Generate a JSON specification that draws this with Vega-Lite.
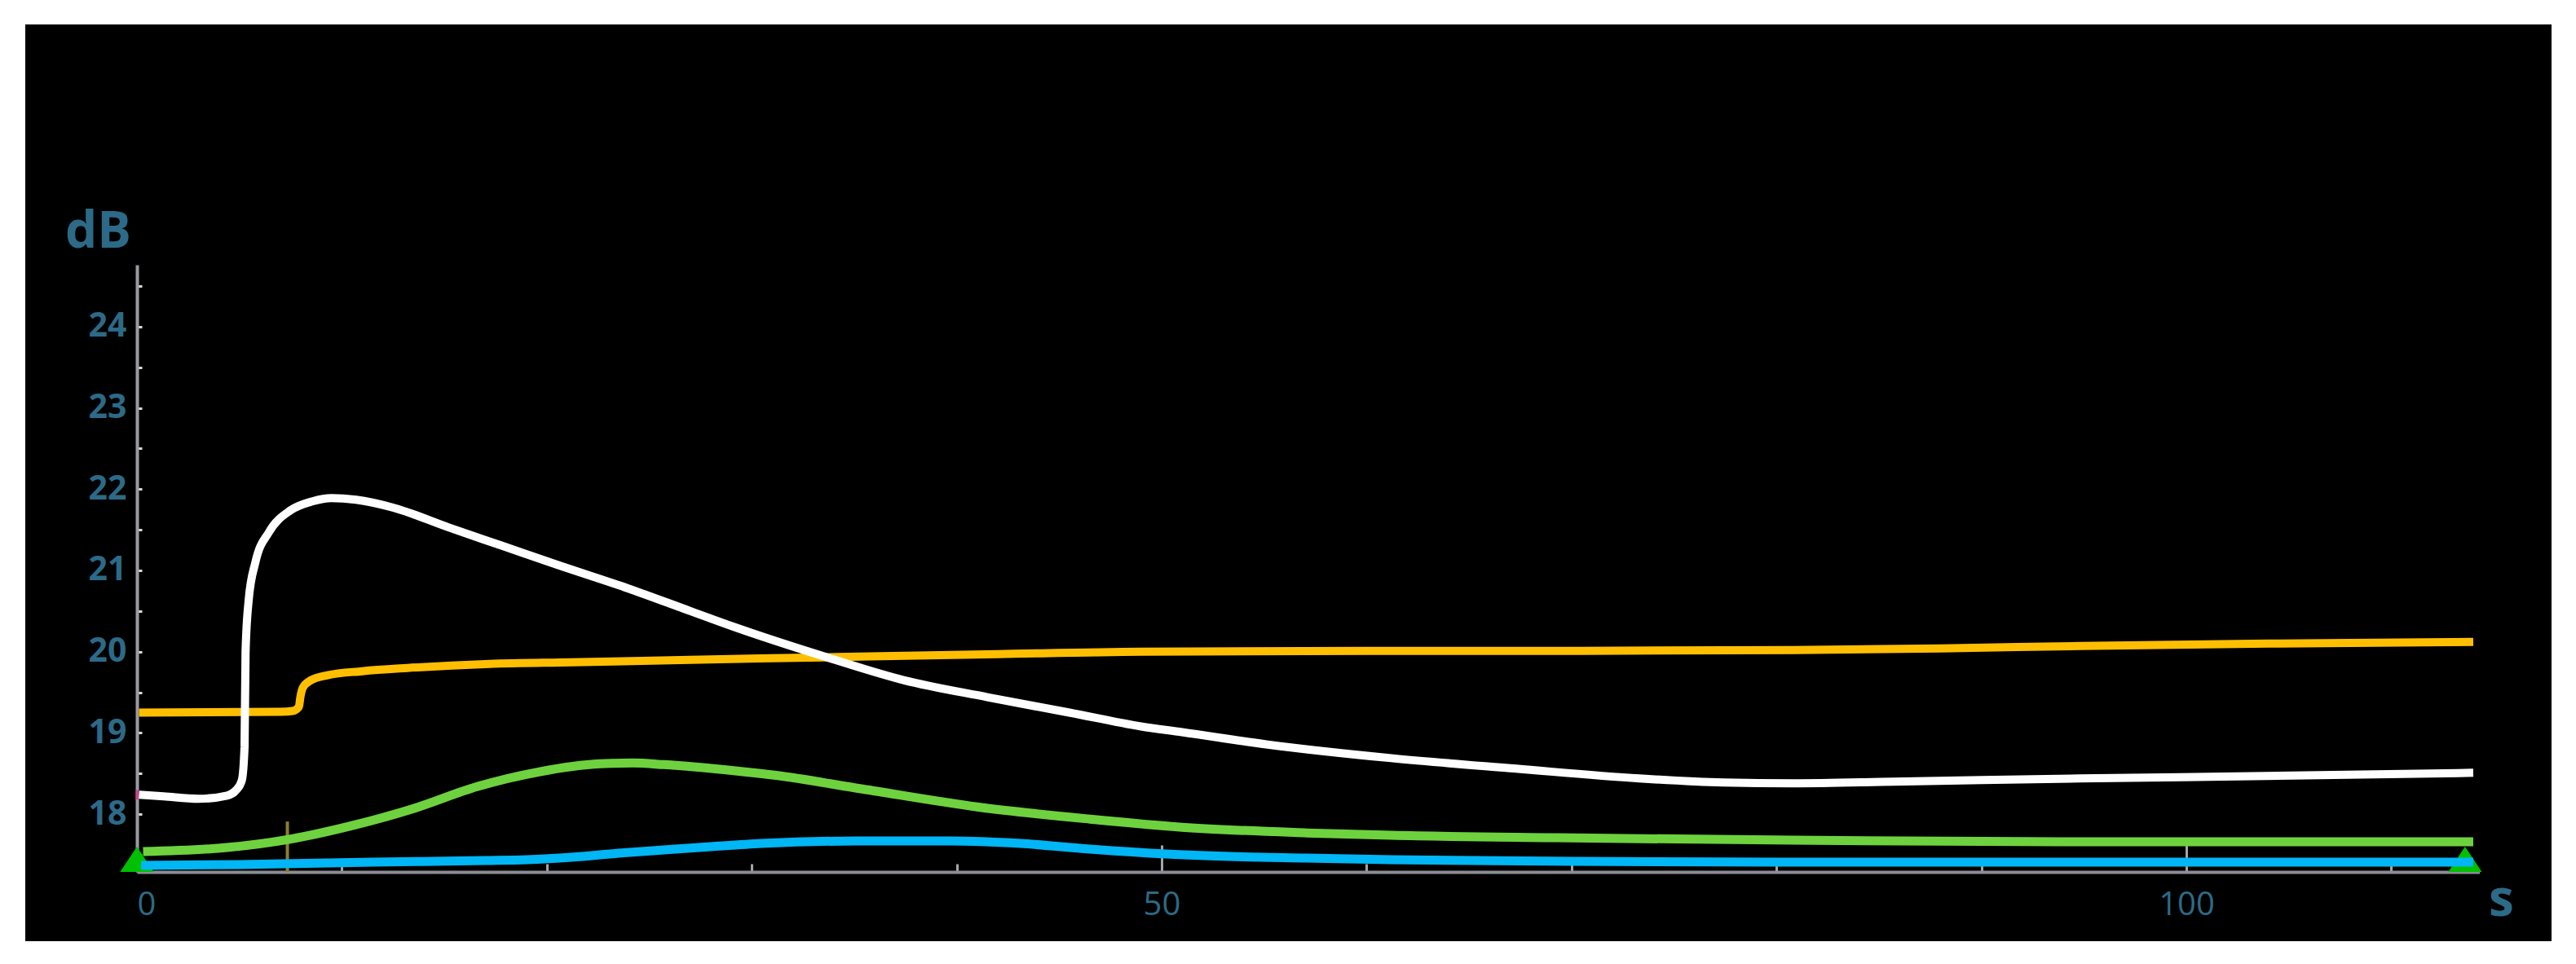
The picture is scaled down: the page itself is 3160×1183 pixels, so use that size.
{
  "$schema": "https://vega.github.io/schema/vega-lite/v6.json",
  "width": 3099,
  "height": 1125,
  "autosize": {"type": "none"},
  "padding": {"left": 31, "top": 30, "right": 30, "bottom": 28},
  "background": "white",
  "config": {
    "view": {"fill": "black", "stroke": null},
    "axis": {"labelFont": "Open Sans", "titleFont": "Open Sans", "grid": false, "labelOverlap": false}
  },
  "datasets": {
    "curves": [
      {"series": "blue", "x": 0.2, "y": 17.37}, {"series": "blue", "x": 5, "y": 17.38}, {"series": "blue", "x": 11.5, "y": 17.41}, {"series": "blue", "x": 17, "y": 17.43}, {"series": "blue", "x": 19, "y": 17.44}, {"series": "blue", "x": 21.2, "y": 17.47}, {"series": "blue", "x": 23.5, "y": 17.52}, {"series": "blue", "x": 25.7, "y": 17.56}, {"series": "blue", "x": 28, "y": 17.6}, {"series": "blue", "x": 30.5, "y": 17.64}, {"series": "blue", "x": 35.1, "y": 17.67}, {"series": "blue", "x": 39.6, "y": 17.67}, {"series": "blue", "x": 43.1, "y": 17.64}, {"series": "blue", "x": 46.5, "y": 17.57}, {"series": "blue", "x": 50.2, "y": 17.51}, {"series": "blue", "x": 53.3, "y": 17.48}, {"series": "blue", "x": 57.1, "y": 17.46}, {"series": "blue", "x": 61.2, "y": 17.44}, {"series": "blue", "x": 70, "y": 17.42}, {"series": "blue", "x": 80.8, "y": 17.41}, {"series": "blue", "x": 95, "y": 17.41}, {"series": "blue", "x": 114, "y": 17.41},
      {"series": "green", "x": 0.3, "y": 17.54}, {"series": "green", "x": 4.4, "y": 17.59}, {"series": "green", "x": 7.4, "y": 17.69}, {"series": "green", "x": 10.5, "y": 17.86}, {"series": "green", "x": 13.5, "y": 18.07}, {"series": "green", "x": 16.6, "y": 18.34}, {"series": "green", "x": 19.6, "y": 18.52}, {"series": "green", "x": 22.6, "y": 18.62}, {"series": "green", "x": 24.2, "y": 18.63}, {"series": "green", "x": 25.7, "y": 18.61}, {"series": "green", "x": 29.3, "y": 18.53}, {"series": "green", "x": 31.1, "y": 18.48}, {"series": "green", "x": 35.4, "y": 18.31}, {"series": "green", "x": 41, "y": 18.09}, {"series": "green", "x": 46.5, "y": 17.94}, {"series": "green", "x": 51, "y": 17.84}, {"series": "green", "x": 57.1, "y": 17.77}, {"series": "green", "x": 61.2, "y": 17.74}, {"series": "green", "x": 69.3, "y": 17.71}, {"series": "green", "x": 80.8, "y": 17.68}, {"series": "green", "x": 94.8, "y": 17.66}, {"series": "green", "x": 114, "y": 17.66},
      {"series": "yellow", "x": 0.1, "y": 19.25}, {"series": "yellow", "x": 7.0, "y": 19.26}, {"series": "yellow", "x": 7.6, "y": 19.27}, {"series": "yellow", "x": 7.9, "y": 19.32}, {"series": "yellow", "x": 7.98, "y": 19.45}, {"series": "yellow", "x": 8.1, "y": 19.56}, {"series": "yellow", "x": 8.5, "y": 19.65}, {"series": "yellow", "x": 9.3, "y": 19.71}, {"series": "yellow", "x": 11, "y": 19.76}, {"series": "yellow", "x": 13.2, "y": 19.8}, {"series": "yellow", "x": 17.2, "y": 19.85}, {"series": "yellow", "x": 21.2, "y": 19.87}, {"series": "yellow", "x": 27, "y": 19.9}, {"series": "yellow", "x": 33.4, "y": 19.93}, {"series": "yellow", "x": 42, "y": 19.97}, {"series": "yellow", "x": 49, "y": 20.0}, {"series": "yellow", "x": 60, "y": 20.01}, {"series": "yellow", "x": 70, "y": 20.01}, {"series": "yellow", "x": 80.8, "y": 20.02}, {"series": "yellow", "x": 88, "y": 20.04}, {"series": "yellow", "x": 94.8, "y": 20.07}, {"series": "yellow", "x": 104, "y": 20.1}, {"series": "yellow", "x": 114, "y": 20.12},
      {"series": "white", "x": 0.1, "y": 18.24}, {"series": "white", "x": 1.3, "y": 18.22}, {"series": "white", "x": 3.0, "y": 18.19}, {"series": "white", "x": 4.4, "y": 18.23}, {"series": "white", "x": 4.85, "y": 18.3}, {"series": "white", "x": 5.12, "y": 18.42}, {"series": "white", "x": 5.25, "y": 18.83}, {"series": "white", "x": 5.3, "y": 20.0}, {"series": "white", "x": 5.45, "y": 20.63}, {"series": "white", "x": 5.78, "y": 21.1}, {"series": "white", "x": 6.44, "y": 21.47}, {"series": "white", "x": 7.5, "y": 21.74}, {"series": "white", "x": 8.56, "y": 21.85}, {"series": "white", "x": 9.49, "y": 21.89}, {"series": "white", "x": 10.69, "y": 21.87}, {"series": "white", "x": 12.54, "y": 21.77}, {"series": "white", "x": 15.2, "y": 21.53}, {"series": "white", "x": 17.85, "y": 21.3}, {"series": "white", "x": 20.5, "y": 21.07}, {"series": "white", "x": 23.95, "y": 20.78}, {"series": "white", "x": 27, "y": 20.5}, {"series": "white", "x": 29.3, "y": 20.29}, {"series": "white", "x": 33.8, "y": 19.92}, {"series": "white", "x": 37.4, "y": 19.65}, {"series": "white", "x": 41.5, "y": 19.44}, {"series": "white", "x": 45.5, "y": 19.25}, {"series": "white", "x": 49, "y": 19.08}, {"series": "white", "x": 51, "y": 19.01}, {"series": "white", "x": 55.1, "y": 18.86}, {"series": "white", "x": 61.2, "y": 18.69}, {"series": "white", "x": 67.3, "y": 18.56}, {"series": "white", "x": 73.3, "y": 18.44}, {"series": "white", "x": 77.4, "y": 18.39}, {"series": "white", "x": 80.8, "y": 18.38}, {"series": "white", "x": 85.7, "y": 18.4}, {"series": "white", "x": 94.8, "y": 18.44}, {"series": "white", "x": 103.9, "y": 18.47}, {"series": "white", "x": 114, "y": 18.51}
    ],
    "triangles": [{"x": 0, "y": 17.29}, {"x": 113.6, "y": 17.29}],
    "cursor": [{"x": 7.34, "y": 17.29, "y2": 17.91}],
    "start": [{"x": 0, "y": 18.24}]
  },
  "encoding": {
    "x": {
      "field": "x", "type": "quantitative",
      "scale": {"domain": [0, 114.3], "range": [137, 3010.5], "nice": false, "zero": false},
      "axis": {
        "orient": "bottom", "offset": -85,
        "values": [0, 10, 20, 30, 40, 50, 60, 70, 80, 90, 100, 110],
        "format": "d",
        "labelExpr": "datum.value % 50 === 0 ? datum.label : ''",
        "tickSize": {"condition": {"test": "datum.value % 50 === 0", "value": -33}, "value": -10},
        "tickColor": "#a4a4ac", "tickWidth": 3,
        "domainColor": "#8c8c94", "domainWidth": 4,
        "labelFontSize": 40, "labelColor": "#2c6a87", "labelPadding": 53,
        "title": "s", "titleX": 3037, "titleY": 53, "titleAlign": "center", "titleBaseline": "alphabetic",
        "titleAnchor": null, "titleFontSize": 62, "titleFontWeight": "bold", "titleColor": "#2c6a87", "titleAngle": 0
      }
    },
    "y": {
      "field": "y", "type": "quantitative",
      "scale": {"domain": [17.29, 24.76], "range": [1040, 295], "nice": false, "zero": false},
      "axis": {
        "orient": "left", "offset": -137,
        "values": [17.5, 18, 18.5, 19, 19.5, 20, 20.5, 21, 21.5, 22, 22.5, 23, 23.5, 24, 24.5],
        "labelExpr": "datum.value % 1 === 0 ? format(datum.value, 'd') : ''",
        "tickSize": -6, "tickColor": "#d8d8d8", "tickWidth": 3,
        "domainColor": "#9a9aa2", "domainWidth": 4,
        "labelFontSize": 41, "labelFontWeight": "bold", "labelColor": "#2c6a87", "labelPadding": 19,
        "title": "dB", "titleX": -48, "titleY": 273, "titleAlign": "center", "titleBaseline": "alphabetic",
        "titleAnchor": null, "titleFontSize": 62, "titleFontWeight": "bold", "titleColor": "#2c6a87", "titleAngle": 0
      }
    }
  },
  "layer": [
    {
      "data": {"name": "triangles"},
      "mark": {"type": "point", "shape": "M-1,0L0,-1.5L1,0Z", "size": 1700, "filled": true, "color": "#00c000", "opacity": 1}
    },
    {
      "data": {"name": "cursor"},
      "mark": {"type": "rule", "color": "#8a7e2e", "strokeWidth": 4},
      "encoding": {"y2": {"field": "y2"}}
    },
    {
      "data": {"name": "curves"},
      "transform": [{"filter": "datum.series === 'blue'"}],
      "mark": {"type": "line", "interpolate": "monotone", "color": "#00b6f4", "strokeWidth": 11, "strokeCap": "butt", "strokeJoin": "round"}
    },
    {
      "data": {"name": "curves"},
      "transform": [{"filter": "datum.series === 'green'"}],
      "mark": {"type": "line", "interpolate": "monotone", "color": "#6ed23e", "strokeWidth": 11, "strokeCap": "butt", "strokeJoin": "round"}
    },
    {
      "data": {"name": "curves"},
      "transform": [{"filter": "datum.series === 'yellow'"}],
      "mark": {"type": "line", "interpolate": "monotone", "color": "#ffbf00", "strokeWidth": 10, "strokeCap": "butt", "strokeJoin": "round"}
    },
    {
      "data": {"name": "curves"},
      "transform": [{"filter": "datum.series === 'white'"}],
      "mark": {"type": "line", "interpolate": "monotone", "color": "#ffffff", "strokeWidth": 10, "strokeCap": "butt", "strokeJoin": "round"}
    },
    {
      "data": {"name": "start"},
      "mark": {"type": "tick", "orient": "vertical", "color": "#e0208a", "size": 12, "thickness": 4}
    }
  ]
}
